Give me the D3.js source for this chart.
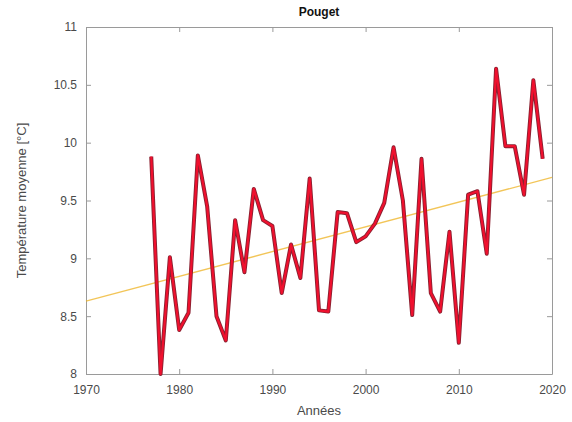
<!DOCTYPE html>
<html>
<head>
<meta charset="utf-8">
<script src="https://cdn.jsdelivr.net/npm/d3@7"></script>
<style>
  body { margin: 0; background: #fff; }
  svg text { font-family: "Liberation Sans", Arial, sans-serif; }
</style>
</head>
<body>
<div id="chartDiv"></div>
<script>
// data
const years = [1977, 1978, 1979, 1980, 1981, 1982, 1983, 1984, 1985, 1986,
  1987, 1988, 1989, 1990, 1991, 1992, 1993, 1994, 1995, 1996,
  1997, 1998, 1999, 2000, 2001, 2002, 2003, 2004, 2005, 2006,
  2007, 2008, 2009, 2010, 2011, 2012, 2013, 2014, 2015, 2016,
  2017, 2018, 2019];
const temps = [9.88, 8.0, 9.01, 8.38, 8.53, 9.89, 9.45, 8.5, 8.29, 9.33,
  8.88, 9.6, 9.33, 9.28, 8.7, 9.12, 8.83, 9.69, 8.55, 8.54,
  9.4, 9.39, 9.14, 9.19, 9.3, 9.48, 9.96, 9.5, 8.51, 9.86,
  8.7, 8.54, 9.23, 8.27, 9.55, 9.58, 9.04, 10.64, 9.97, 9.97,
  9.55, 10.54, 9.86];
const trendYears = [1970, 2020];
const trendVals = [8.63, 9.70];
const xTicks = [1970, 1980, 1990, 2000, 2010, 2020];
const yTicks = [8, 8.5, 9, 9.5, 10, 10.5, 11];

const W = 572, H = 422;
const margin = {top: 27, right: 20, bottom: 48, left: 86};
const gw = W - margin.left - margin.right;
const gh = H - margin.top - margin.bottom;

const svg = d3.select('#chartDiv').append('svg')
  .attr('width', W).attr('height', H);

const graph = svg.append('g')
  .attr('transform', `translate(${margin.left},${margin.top})`);

const x = d3.scaleLinear().domain([1970, 2020]).range([0, gw]);
const y = d3.scaleLinear().domain([8, 11]).range([gh, 0]);

const axisColor = '#9a9a9a';
const textColor = '#4a4a4a';

// axes with inward ticks (matlab style)
const xAxis = d3.axisBottom(x).tickValues(xTicks).tickFormat(d3.format('d'))
  .tickSizeInner(-5).tickSizeOuter(0).tickPadding(11);
const yAxis = d3.axisLeft(y).tickValues(yTicks).tickFormat(d => d)
  .tickSizeInner(-5).tickSizeOuter(0).tickPadding(9);
const xTop = d3.axisTop(x).tickValues(xTicks).tickFormat('')
  .tickSizeInner(-5).tickSizeOuter(0);
const yRight = d3.axisRight(y).tickValues(yTicks).tickFormat('')
  .tickSizeInner(-5).tickSizeOuter(0);

graph.append('g').attr('transform', `translate(0,${gh})`).call(xAxis);
graph.append('g').call(yAxis);
graph.append('g').call(xTop);
graph.append('g').attr('transform', `translate(${gw},0)`).call(yRight);

graph.selectAll('.domain, .tick line').attr('stroke', axisColor);
graph.selectAll('.tick text')
  .attr('fill', textColor)
  .style('font-size', '12px');

// trend line
const trend = trendYears.map((d, i) => ({year: d, value: trendVals[i]}));
graph.append('path')
  .datum(trend)
  .attr('fill', 'none')
  .attr('stroke', '#EDB120')
  .attr('stroke-opacity', 0.75)
  .attr('stroke-width', 1.3)
  .attr('d', d3.line().x(d => x(d.year)).y(d => y(d.value)));

// temperature series
const series = years.map((d, i) => ({year: d, value: temps[i]}));
const line = d3.line().x(d => x(d.year)).y(d => y(d.value));
graph.append('path')
  .datum(series)
  .attr('fill', 'none')
  .attr('stroke', '#8a2030')
  .attr('stroke-width', 4)
  .attr('stroke-linejoin', 'round')
  .attr('d', line);
graph.append('path')
  .datum(series)
  .attr('fill', 'none')
  .attr('stroke', '#f0102e')
  .attr('stroke-width', 2.2)
  .attr('stroke-linejoin', 'round')
  .attr('d', line);

// titles
svg.append('text')
  .attr('x', margin.left + gw / 2).attr('y', 16)
  .attr('text-anchor', 'middle')
  .attr('font-weight', 'bold')
  .style('font-size', '12px')
  .attr('fill', '#111')
  .text('Pouget');

svg.append('text')
  .attr('x', margin.left + gw / 2).attr('y', 415)
  .attr('text-anchor', 'middle')
  .style('font-size', '13px')
  .attr('fill', textColor)
  .text('Années');

svg.append('text')
  .attr('transform', `translate(26,${margin.top + gh / 2}) rotate(-90)`)
  .attr('text-anchor', 'middle')
  .style('font-size', '13px')
  .attr('fill', textColor)
  .text('Température moyenne [°C]');
</script>
</body>
</html>
